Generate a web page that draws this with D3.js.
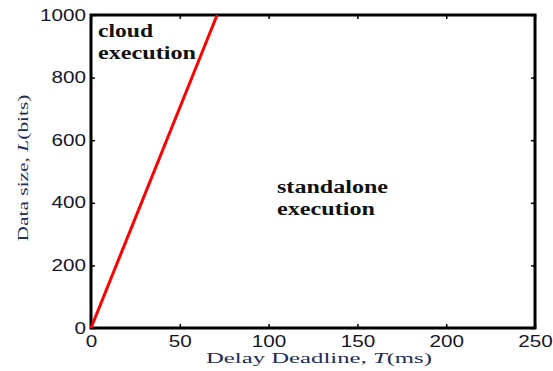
<!DOCTYPE html>
<html>
<head>
<meta charset="utf-8">
<script src="https://cdn.jsdelivr.net/npm/d3@7"></script>
<style>
  body { margin: 0; background: #fff; }
  .tick text { font-family: "Liberation Sans", Arial, sans-serif; font-size: 16px; fill: #151528; }
  .axisLabel { font-family: "Liberation Serif", "Times New Roman", serif; font-size: 15px; fill: #1f2b58; }
  .region { font-family: "Liberation Serif", "Times New Roman", serif; font-size: 18px; font-weight: bold; fill: #111; }
</style>
</head>
<body>
<div id="chart"></div>
<script>
// Data
var deadlineT = [0, 71];
var dataSizeL = [0, 1000];
var xTicks = [0, 50, 100, 150, 200, 250];
var yTicks = [0, 200, 400, 600, 800, 1000];

var svgWidth = 553;
var svgHeight = 371;

var margin = { top: 15, right: 18, bottom: 43, left: 91 };
var width = svgWidth - margin.left - margin.right;
var height = svgHeight - margin.top - margin.bottom;

var svg = d3.select("#chart")
  .append("svg")
  .attr("width", svgWidth)
  .attr("height", svgHeight);

var chartGroup = svg.append("g")
  .attr("transform", `translate(${margin.left}, ${margin.top})`);

var xScale = d3.scaleLinear().domain([0, 250]).range([0, width]);
var yScale = d3.scaleLinear().domain([0, 1000]).range([height, 0]);

// Axes with inward ticks (mirrored on top and right)
var fmt = d3.format("d");
var bottomAxis = d3.axisBottom(xScale).tickValues(xTicks).tickFormat(fmt).tickSizeInner(-4).tickSizeOuter(0).tickPadding(8);
var leftAxis = d3.axisLeft(yScale).tickValues(yTicks).tickFormat(fmt).tickSizeInner(-4).tickSizeOuter(0).tickPadding(5);
var topAxis = d3.axisTop(xScale).tickValues(xTicks).tickSizeInner(-4).tickSizeOuter(0);
var rightAxis = d3.axisRight(yScale).tickValues(yTicks).tickSizeInner(-4).tickSizeOuter(0);

function styleAxis(g) {
  g.select(".domain").remove();
  g.selectAll(".tick line").attr("stroke", "#000").attr("stroke-width", 1.5);
  // the picture's digits are wider than the font, stretch them
  g.selectAll(".tick text")
    .attr("textLength", function() { return this.textContent.length * 11.5; })
    .attr("lengthAdjust", "spacingAndGlyphs");
}

function noLabels(g) {
  g.selectAll(".tick text").remove();
}

chartGroup.append("g").attr("transform", `translate(0, ${height})`).call(bottomAxis).call(styleAxis);
chartGroup.append("g").call(leftAxis).call(styleAxis);
chartGroup.append("g").call(topAxis).call(noLabels).call(styleAxis);
chartGroup.append("g").attr("transform", `translate(${width}, 0)`).call(rightAxis).call(noLabels).call(styleAxis);

// Frame
chartGroup.append("rect")
  .attr("x", 0).attr("y", 0)
  .attr("width", width).attr("height", height)
  .attr("fill", "none")
  .attr("stroke", "#000")
  .attr("stroke-width", 3);

// Boundary line
var points = deadlineT.map(function(t, i) { return [t, dataSizeL[i]]; });
var line = d3.line()
  .x(function(d) { return xScale(d[0]); })
  .y(function(d) { return yScale(d[1]); });

chartGroup.append("path")
  .datum(points)
  .attr("d", line)
  .attr("fill", "none")
  .attr("stroke", "#ff0000")
  .attr("stroke-width", 3);

// Region labels
function regionLine(x, y, str, len) {
  chartGroup.append("text")
    .attr("class", "region")
    .attr("x", x).attr("y", y)
    .attr("textLength", len)
    .attr("lengthAdjust", "spacingAndGlyphs")
    .text(str);
}
regionLine(7, 22, "cloud", 55);
regionLine(7, 44, "execution", 98);
regionLine(186, 178, "standalone", 111);
regionLine(186, 200, "execution", 98);

// Axis labels
var xLabel = svg.append("text")
  .attr("class", "axisLabel")
  .attr("text-anchor", "middle")
  .attr("x", 319)
  .attr("y", 363)
  .attr("textLength", 226)
  .attr("lengthAdjust", "spacingAndGlyphs");
xLabel.append("tspan").text("Delay Deadline, ");
xLabel.append("tspan").attr("font-style", "italic").text("T");
xLabel.append("tspan").text("(ms)");

var yLabel = svg.append("text")
  .attr("class", "axisLabel")
  .attr("text-anchor", "middle")
  .attr("font-size", "18px")
  .attr("textLength", 147)
  .attr("lengthAdjust", "spacingAndGlyphs")
  .attr("transform", "translate(28, 168) rotate(-90)");
yLabel.append("tspan").text("Data size, ");
yLabel.append("tspan").attr("font-style", "italic").text("L");
yLabel.append("tspan").text("(bits)");
</script>
</body>
</html>
